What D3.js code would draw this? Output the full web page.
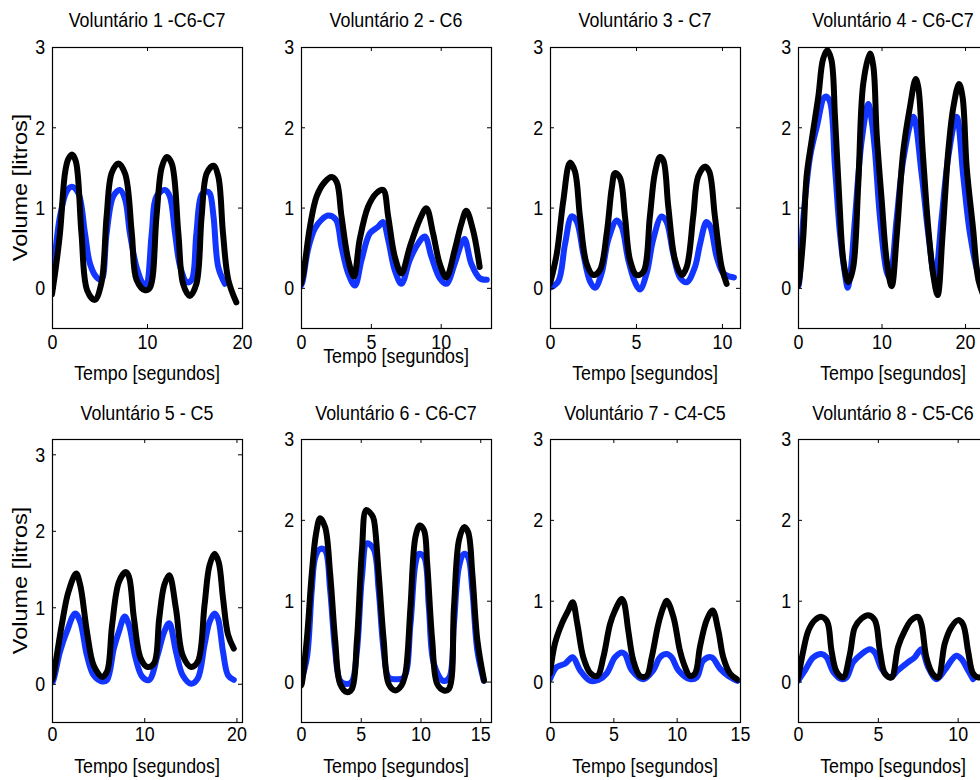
<!DOCTYPE html>
<html>
<head>
<meta charset="utf-8">
<script src="https://cdn.jsdelivr.net/npm/d3@7"></script>
<style>
  body { margin: 0; background: #fff; }
  svg { display: block; }
</style>
</head>
<body>
<div id="chart"></div>
<script>
// panel titles and axis settings
const titles = ['Voluntário 1 -C6-C7', 'Voluntário 2 - C6', 'Voluntário 3 - C7', 'Voluntário 4 - C6-C7',
                'Voluntário 5 - C5', 'Voluntário 6 - C6-C7', 'Voluntário 7 - C4-C5', 'Voluntário 8 - C5-C6'];
const xMax = [20, 13.6, 11.05, 22.75, 20.6, 15.9, 15, 11.9];
const yMax = [3, 3, 3, 3, 3.2, 3, 3, 3];
const xTicks = [[0, 10, 20], [0, 5, 10], [0, 5, 10], [0, 10, 20], [0, 10, 20], [0, 5, 10, 15], [0, 5, 10, 15], [0, 5, 10]];
const yTicks = [0, 1, 2, 3];
const xLabel = 'Tempo [segundos]';
const yLabel = 'Volume [litros]';

// [tempo, volume] -- black and blue trace per volunteer
const black1 = [[0,-0.08],[0.4,0.25],[0.84,0.68],[1.37,1.43],[1.7,1.6],[2.1,1.66],[2.5,1.58],[3.1,0.68],[3.7,-0.03],[4.5,-0.15],[5.2,0.06],[5.75,0.89],[6.28,1.43],[6.98,1.55],[7.7,1.42],[8.4,0.68],[8.9,0.1],[9.8,-0.03],[10.3,0.0],[11.0,0.89],[11.55,1.5],[12.07,1.63],[12.6,1.55],[13.3,0.68],[13.8,0.05],[14.5,-0.1],[15.2,0.05],[15.75,0.89],[16.3,1.43],[17.0,1.52],[17.5,1.39],[18.0,0.68],[18.56,0.1],[19.4,-0.18]];
const blue1 = [[0,0.1],[0.4,0.5],[0.84,0.89],[1.54,1.2],[2.07,1.26],[2.77,1.18],[3.47,0.68],[4.0,0.3],[4.7,0.13],[5.2,0.1],[5.75,0.68],[6.45,1.14],[7.15,1.22],[7.7,1.1],[8.2,0.68],[8.9,0.26],[9.6,0.05],[9.9,0.04],[10.5,0.68],[11.0,1.14],[11.9,1.22],[12.4,1.14],[12.95,0.68],[13.5,0.26],[14.2,0.07],[14.7,0.1],[15.2,0.68],[15.75,1.16],[16.3,1.2],[16.6,1.18],[17.0,0.89],[17.5,0.26],[18.2,0.05]];

const black2 = [[0,0.05],[0.17,0.18],[0.64,0.76],[1.12,1.14],[1.71,1.32],[2.19,1.38],[2.55,1.32],[2.9,0.89],[3.38,0.35],[3.79,0.14],[4.2,0.6],[4.8,1.01],[5.4,1.18],[5.88,1.22],[6.24,0.89],[6.71,0.39],[7.19,0.18],[7.79,0.51],[8.5,0.85],[8.98,0.99],[9.45,0.68],[9.93,0.3],[10.4,0.13],[11.0,0.47],[11.48,0.8],[11.83,0.96],[12.31,0.72],[12.79,0.26]];
const blue2 = [[0,0.03],[0.1,0.07],[0.52,0.49],[1.0,0.74],[1.48,0.85],[1.95,0.9],[2.5,0.85],[2.9,0.51],[3.38,0.18],[3.86,0.03],[4.34,0.35],[4.93,0.68],[5.52,0.76],[5.88,0.82],[6.24,0.6],[6.71,0.22],[7.19,0.05],[7.79,0.35],[8.38,0.55],[8.86,0.64],[9.33,0.39],[9.93,0.12],[10.4,0.05],[11.0,0.3],[11.48,0.55],[11.71,0.61],[12.19,0.3],[12.79,0.12],[13.3,0.1]];

const black3 = [[0,0.05],[0.39,0.42],[0.77,1.08],[1.16,1.56],[1.45,1.45],[1.74,0.89],[2.13,0.3],[2.52,0.16],[2.9,0.22],[3.3,0.68],[3.59,1.24],[3.78,1.43],[4.07,1.37],[4.36,0.89],[4.65,0.35],[5.04,0.16],[5.43,0.2],[5.81,0.89],[6.1,1.43],[6.4,1.63],[6.59,1.59],[6.88,1.01],[7.27,0.35],[7.66,0.16],[7.95,0.26],[8.33,0.89],[8.62,1.39],[9.01,1.51],[9.26,1.45],[9.59,0.89],[9.98,0.26],[10.27,0.05]];
const blue3 = [[0,0.0],[0.48,0.08],[0.87,0.54],[1.26,0.89],[1.55,0.83],[1.94,0.42],[2.33,0.08],[2.62,0.0],[3.0,0.18],[3.39,0.6],[3.88,0.84],[4.17,0.76],[4.55,0.35],[4.94,0.07],[5.23,-0.02],[5.62,0.18],[6.0,0.6],[6.49,0.89],[6.78,0.82],[7.17,0.42],[7.56,0.13],[7.95,0.07],[8.43,0.26],[8.72,0.54],[9.1,0.82],[9.33,0.76],[9.69,0.39],[10.08,0.18],[10.47,0.14],[10.7,0.13]];

const black4 = [[0,0.03],[0.16,0.11],[0.64,0.65],[1.04,1.4],[1.64,1.84],[2.43,2.38],[3.0,2.85],[3.51,2.96],[4.0,2.84],[4.43,2.13],[4.95,1.09],[5.43,0.34],[6.02,0.07],[6.6,0.25],[7.22,1.3],[7.82,2.55],[8.62,2.92],[9.02,2.76],[9.42,1.92],[10.02,1.09],[10.62,0.34],[11.22,0.02],[11.82,0.65],[12.6,1.7],[13.4,2.25],[14.09,2.6],[14.4,2.5],[14.93,1.7],[15.6,0.74],[16.2,0.16],[16.72,-0.09],[17.3,0.65],[17.99,1.7],[18.6,2.25],[19.28,2.54],[19.7,2.38],[20.2,1.5],[20.96,0.74],[21.6,0.1],[22.3,-0.12]];
const blue4 = [[0,0.02],[0.1,0.04],[0.64,0.87],[1.44,1.63],[2.24,2.0],[3.23,2.38],[3.75,2.34],[4.43,1.5],[5.03,0.67],[5.63,0.17],[5.95,0.0],[6.3,0.2],[6.83,0.87],[7.63,1.84],[8.42,2.29],[8.8,2.1],[9.22,1.7],[9.82,0.87],[10.62,0.2],[11.0,0.12],[11.82,0.87],[12.6,1.59],[13.81,2.13],[14.8,1.42],[15.6,0.67],[16.4,0.12],[17.2,0.87],[17.99,1.63],[18.99,2.13],[19.8,1.38],[20.6,0.67],[21.6,0.17],[22.3,0.05]];

const black5 = [[0,0.05],[0.15,0.11],[1.06,0.77],[1.78,1.2],[2.62,1.44],[3.06,1.29],[3.79,0.68],[4.52,0.24],[5.43,0.09],[5.97,0.16],[6.52,0.77],[7.25,1.33],[7.98,1.46],[8.34,1.4],[8.89,0.85],[9.62,0.33],[10.35,0.22],[11.07,0.27],[11.62,0.85],[12.17,1.29],[12.71,1.42],[13.44,0.98],[14.17,0.37],[15.08,0.22],[15.81,0.29],[16.54,1.03],[17.08,1.55],[17.63,1.7],[18.07,1.59],[18.54,1.12],[19.09,0.64],[19.71,0.46]];
const blue5 = [[0,0.02],[0.1,0.03],[0.87,0.42],[1.6,0.68],[2.51,0.92],[3.06,0.81],[3.79,0.37],[4.52,0.11],[5.43,0.03],[5.97,0.05],[6.7,0.46],[7.25,0.68],[7.87,0.88],[8.34,0.77],[9.07,0.33],[9.8,0.09],[10.53,0.05],[11.44,0.37],[12.17,0.68],[12.71,0.79],[13.44,0.42],[14.17,0.11],[15.08,0.0],[15.81,0.07],[16.54,0.51],[17.08,0.81],[17.63,0.92],[18.0,0.85],[18.54,0.42],[19.09,0.11],[19.71,0.05]];

const black6 = [[0,-0.05],[0.06,-0.03],[0.48,0.51],[0.9,1.33],[1.26,1.83],[1.6,2.02],[2.02,1.91],[2.44,1.33],[2.86,0.51],[3.28,-0.03],[3.84,-0.13],[4.26,-0.09],[4.68,0.51],[5.1,1.62],[5.46,2.12],[5.93,2.06],[6.1,2.0],[6.5,1.33],[6.92,0.51],[7.34,-0.03],[7.9,-0.11],[8.4,-0.05],[8.74,0.1],[9.16,0.92],[9.58,1.79],[9.94,1.93],[10.3,1.87],[10.56,1.46],[10.98,0.51],[11.4,-0.03],[11.96,-0.11],[12.38,-0.09],[12.8,0.92],[13.22,1.75],[13.64,1.91],[13.98,1.85],[14.34,1.33],[14.76,0.51],[15.32,0.01]];
const blue6 = [[0,0],[0.5,0.3],[0.9,1.13],[1.2,1.54],[1.6,1.64],[2.02,1.62],[2.44,1.13],[2.86,0.38],[3.28,0.01],[3.84,-0.03],[4.26,0.0],[4.68,0.38],[5.1,1.29],[5.52,1.71],[6.08,1.64],[6.5,1.13],[6.92,0.38],[7.34,0.05],[7.9,0.03],[8.6,0.05],[9.16,0.71],[9.58,1.46],[9.86,1.58],[10.3,1.54],[10.7,0.92],[11.12,0.22],[11.9,0.01],[12.4,0.05],[12.8,0.71],[13.22,1.42],[13.64,1.58],[13.98,1.54],[14.34,1.13],[14.76,0.38],[15.3,0.01]];

const black7 = [[0,0.1],[0.39,0.47],[0.92,0.71],[1.45,0.88],[1.79,0.98],[2.16,0.71],[2.63,0.3],[3.21,0.1],[3.74,0.07],[4.21,0.3],[4.74,0.71],[5.13,0.88],[5.66,1.02],[5.84,0.98],[6.18,0.63],[6.58,0.26],[7.1,0.07],[7.63,0.07],[8.03,0.3],[8.55,0.71],[8.95,0.92],[9.21,1.0],[9.74,0.8],[10.26,0.38],[10.66,0.18],[11.05,0.07],[11.45,0.1],[11.84,0.43],[12.37,0.76],[12.84,0.88],[13.29,0.63],[13.68,0.3],[14.21,0.1],[14.74,0.03]];
const blue7 = [[0,0.03],[0.53,0.18],[1.18,0.22],[1.79,0.3],[2.37,0.14],[3.16,0.01],[3.82,0.02],[4.47,0.1],[5.13,0.3],[5.66,0.36],[5.92,0.34],[6.45,0.14],[7.37,0.03],[8.16,0.14],[8.68,0.3],[9.21,0.34],[9.6,0.3],[10.13,0.14],[11.05,0.03],[11.58,0.05],[12.1,0.26],[12.76,0.3],[13.42,0.16],[14.08,0.07],[14.79,0.01]];

const black8 = [[0,0.03],[0.33,0.38],[0.65,0.63],[1.06,0.76],[1.48,0.8],[1.83,0.74],[2.1,0.38],[2.42,0.12],[2.83,0.05],[3.25,0.34],[3.56,0.67],[3.98,0.78],[4.4,0.82],[4.81,0.76],[5.13,0.38],[5.44,0.1],[5.85,0.05],[6.27,0.43],[6.69,0.63],[7.1,0.76],[7.52,0.8],[7.73,0.71],[8.04,0.3],[8.42,0.1],[8.77,0.05],[9.19,0.47],[9.6,0.67],[10.02,0.76],[10.33,0.71],[10.65,0.38],[10.96,0.1],[11.3,0.05],[11.8,0.1]];
const blue8 = [[0,0.01],[0.44,0.14],[0.96,0.3],[1.48,0.34],[1.79,0.3],[2.21,0.12],[2.73,0.03],[3.04,0.05],[3.46,0.24],[3.98,0.34],[4.5,0.4],[4.81,0.36],[5.23,0.16],[5.75,0.05],[6.27,0.14],[6.9,0.24],[7.31,0.3],[7.73,0.4],[8.15,0.18],[8.67,0.03],[9.19,0.14],[9.6,0.26],[9.92,0.32],[10.23,0.28],[10.65,0.14],[10.96,0.03]];

const blackSeries = [black1, black2, black3, black4, black5, black6, black7, black8];
const blueSeries = [blue1, blue2, blue3, blue4, blue5, blue6, blue7, blue8];

const svg = d3.select('#chart').append('svg')
  .attr('width', 980)
  .attr('height', 780);

// text in the figure is slightly squeezed horizontally
const FONT = '"Liberation Sans", Arial, sans-serif';
const SQUEEZE = 0.85;

function addText(g, x, y, str, size, rotate) {
  return g.append('text')
    .attr('transform', `translate(${x},${y}) scale(${SQUEEZE},1)` + (rotate ? ` rotate(${rotate})` : ''))
    .attr('text-anchor', 'middle')
    .style('font-family', FONT)
    .style('font-size', size + 'px')
    .attr('fill', '#000')
    .text(str);
}

class VolumePanel {

  constructor(_config, _black, _blue) {
    this.config = {
      idx: _config.idx,
      left: _config.left,
      top: _config.top,
      width: _config.width || 190,
      height: _config.height,
      xMax: _config.xMax,
      yMax: _config.yMax,
      xTicks: _config.xTicks,
      title: _config.title,
      titleY: _config.titleY,
      tickPad: _config.tickPad,
      xLabelY: _config.xLabelY,
      showYLabel: _config.showYLabel
    };
    this.black = _black;
    this.blue = _blue;
    this.initVis();
  }

  initVis() {
    let vis = this;
    const c = vis.config;

    vis.g = svg.append('g').attr('transform', `translate(${c.left},${c.top})`);

    vis.x = d3.scaleLinear().domain([0, c.xMax]).range([0, c.width]);
    vis.y = d3.scaleLinear().domain([-0.5, c.yMax]).range([c.height, 0]);

    vis.g.append('clipPath').attr('id', 'clip' + c.idx)
      .append('rect').attr('width', c.width).attr('height', c.height);

    const line = d3.line()
      .x(d => vis.x(d[0]))
      .y(d => vis.y(d[1]))
      .curve(d3.curveCatmullRom.alpha(0.5));

    const lines = vis.g.append('g').attr('clip-path', `url(#clip${c.idx})`);
    lines.append('path')
      .datum(vis.blue)
      .attr('d', line)
      .attr('fill', 'none')
      .attr('stroke', '#1236ff')
      .attr('stroke-width', 6)
      .attr('stroke-linejoin', 'round')
      .attr('stroke-linecap', 'round');
    lines.append('path')
      .datum(vis.black)
      .attr('d', line)
      .attr('fill', 'none')
      .attr('stroke', '#000')
      .attr('stroke-width', 6)
      .attr('stroke-linejoin', 'round')
      .attr('stroke-linecap', 'round');

    // axes: ticks point inward on all four sides
    const xb = vis.g.append('g').attr('transform', `translate(0,${c.height})`)
      .call(d3.axisBottom(vis.x).tickValues(c.xTicks).tickFormat(d3.format('d'))
        .tickSizeInner(-4).tickSizeOuter(0).tickPadding(c.tickPad));
    const yl = vis.g.append('g')
      .call(d3.axisLeft(vis.y).tickValues(yTicks).tickFormat(d3.format('d'))
        .tickSizeInner(-4).tickSizeOuter(0).tickPadding(8));
    vis.g.append('g')
      .call(d3.axisTop(vis.x).tickValues(c.xTicks).tickSizeInner(-4).tickSizeOuter(0).tickFormat(''));
    vis.g.append('g').attr('transform', `translate(${c.width},0)`)
      .call(d3.axisRight(vis.y).tickValues(yTicks).tickSizeInner(-4).tickSizeOuter(0).tickFormat(''));

    vis.g.selectAll('.domain').remove();
    vis.g.selectAll('.tick line').attr('stroke', '#000');
    [xb, yl].forEach(a => a.selectAll('text')
      .attr('transform', `scale(${SQUEEZE},1)`)
      .style('font-family', FONT)
      .style('font-size', '21px')
      .attr('fill', '#000'));

    vis.g.append('rect')
      .attr('x', 0.5).attr('y', 0.5)
      .attr('width', c.width).attr('height', c.height)
      .attr('fill', 'none')
      .attr('stroke', '#000')
      .attr('stroke-width', 1.2);

    addText(svg, c.left + c.width / 2, c.titleY, c.title, 21);
    addText(svg, c.left + c.width / 2, c.xLabelY, xLabel, 21);
    if (c.showYLabel) {
      addText(svg, 27, c.top + c.height / 2, yLabel, 23.5, -90);
    }
  }
}

const lefts = [52, 301, 550, 798];
const rows = [
  {top: 47, height: 281, titleY: 27, tickPad: 6, xLabelY: 380},
  {top: 439, height: 283, titleY: 420, tickPad: 4, xLabelY: 773}
];

titles.forEach((t, i) => {
  const row = rows[Math.floor(i / 4)];
  new VolumePanel({
    idx: i,
    left: lefts[i % 4],
    top: row.top,
    height: row.height,
    xMax: xMax[i],
    yMax: yMax[i],
    xTicks: xTicks[i],
    title: t,
    titleY: row.titleY,
    tickPad: row.tickPad,
    xLabelY: i === 1 ? 363 : row.xLabelY,
    showYLabel: i % 4 === 0
  }, blackSeries[i], blueSeries[i]);
});
</script>
</body>
</html>
